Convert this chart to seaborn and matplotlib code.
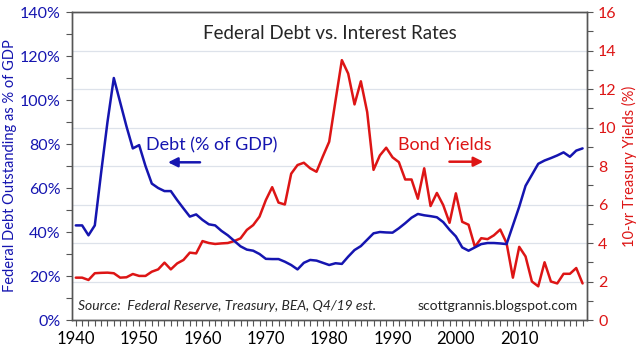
import pandas as pd
import matplotlib.pyplot as plt
import seaborn as sns
from matplotlib.ticker import MultipleLocator, FuncFormatter

#%%
years = list(range(1940, 2021))

debt = [43, 43, 38.5, 43, 67, 90, 110, 99, 88, 78,
        79.5, 70, 62, 60, 58.6, 58.6, 54.5, 50.7, 47, 48,
        45.5, 43.5, 43, 40.5, 38.5, 36, 33.5, 32, 31.5, 30,
        27.8, 27.7, 27.7, 26.5, 25, 23, 26, 27.3, 27, 26,
        25, 25.8, 25.5, 28.8, 31.8, 33.6, 36.5, 39.4, 40, 39.8,
        39.7, 41.7, 44, 46.5, 48.2, 47.6, 47.2, 46.7, 44.5, 41,
        38, 33, 31.5, 33, 34.5, 35, 35, 34.8, 34.5, 43,
        51.5, 61, 66, 71, 72.5, 73.6, 74.8, 76.2, 74.2, 77,
        78]

yields = [2.2, 2.2, 2.08, 2.43, 2.45, 2.46, 2.43, 2.2, 2.22, 2.39,
          2.29, 2.29, 2.51, 2.63, 2.98, 2.63, 2.94, 3.12, 3.5, 3.46,
          4.1, 4.0, 3.95, 3.98, 4.0, 4.1, 4.24, 4.68, 4.93, 5.37,
          6.23, 6.9, 6.1, 6.0, 7.6, 8.05, 8.17, 7.88, 7.7, 8.5,
          9.26, 11.4, 13.5, 12.8, 11.2, 12.4, 10.8, 7.8, 8.55, 8.95,
          8.45, 8.2, 7.3, 7.3, 6.3, 7.88, 5.92, 6.6, 5.97, 5.05,
          6.58, 5.1, 4.95, 3.8, 4.25, 4.2, 4.4, 4.7, 4.0, 2.2,
          3.8, 3.3, 2.0, 1.75, 3.0, 2.0, 1.9, 2.4, 2.4, 2.7,
          1.9]

df = pd.DataFrame({'year': years, 'debt': debt, 'yields': yields})

#%%
sns.set_style('ticks')
plt.rcParams['font.family'] = ['Lato', 'DejaVu Sans']

blue = '#1515b0'
red = '#dd1515'
spine = '#555555'

fig = plt.figure(figsize=(6.4, 3.51), dpi=100)
ax = fig.add_axes([0.1125, 0.0883, 0.8047, 0.8775])
ax2 = ax.twinx()

# yields axis goes behind so the debt line sits on top
ax2.set_zorder(ax.get_zorder() - 1)
ax.patch.set_visible(False)

sns.lineplot(data=df, x='year', y='debt', ax=ax, color=blue, lw=1.8)
sns.lineplot(data=df, x='year', y='yields', ax=ax2, color=red, lw=1.8)

ax.set_xlim(1939.4, 2020.7)
ax.set_ylim(0, 140)
ax2.set_ylim(0, 16)

ax.xaxis.set_minor_locator(MultipleLocator(1))
ax.set_xticks(range(1940, 2011, 10))
ax.yaxis.set_major_locator(MultipleLocator(20))
ax.yaxis.set_minor_locator(MultipleLocator(10))
ax.yaxis.set_major_formatter(FuncFormatter(lambda v, p: f'{v:.0f}%'))
ax2.yaxis.set_major_locator(MultipleLocator(2))
ax2.yaxis.set_minor_locator(MultipleLocator(1))

ax2.grid(axis='y', color='#dde2ea', lw=0.9)
ax2.set_axisbelow(True)

for a in (ax, ax2):
    for s in a.spines.values():
        s.set_color(spine)
        s.set_linewidth(1.0)
    a.tick_params(which='both', length=4, width=0.8, color=spine)

ax.tick_params(axis='y', colors=spine, labelcolor=blue, labelsize=11.5, pad=4)
ax.tick_params(axis='x', labelcolor='black', labelsize=12, pad=4)
ax2.tick_params(axis='y', colors=spine, labelcolor=red, labelsize=11.5, pad=4)

ax.set_xlabel('')
ax.set_ylabel('Federal Debt Outstanding as % of GDP', color=blue, fontsize=10.5, labelpad=2)
ax2.set_ylabel('10-yr Treasury Yields (%)', color=red, fontsize=10.5, labelpad=4)

#%%
ax.text(0.5, 0.93, 'Federal Debt vs. Interest Rates', transform=ax.transAxes,
        ha='center', va='center', fontsize=13.5)

ax.text(0.271, 0.568, 'Debt (% of GDP)', transform=ax.transAxes,
        ha='center', va='center', fontsize=13, color=blue)
ax.annotate('', xy=(0.181, 0.512), xytext=(0.254, 0.512), xycoords='axes fraction',
            arrowprops=dict(arrowstyle='-|>', color=blue, lw=1.8, mutation_scale=14))

ax.text(0.724, 0.568, 'Bond Yields', transform=ax.transAxes,
        ha='center', va='center', fontsize=13, color=red)
ax.annotate('', xy=(0.804, 0.514), xytext=(0.7275, 0.514), xycoords='axes fraction',
            arrowprops=dict(arrowstyle='-|>', color=red, lw=1.8, mutation_scale=14))

ax.text(0.012, 0.025, 'Source:  Federal Reserve, Treasury, BEA, Q4/19 est.',
        transform=ax.transAxes, ha='left', va='bottom', fontsize=10, style='italic')
ax.text(0.983, 0.025, 'scottgrannis.blogspot.com', transform=ax.transAxes,
        ha='right', va='bottom', fontsize=10)

fig.savefig('out.png', dpi=100)
